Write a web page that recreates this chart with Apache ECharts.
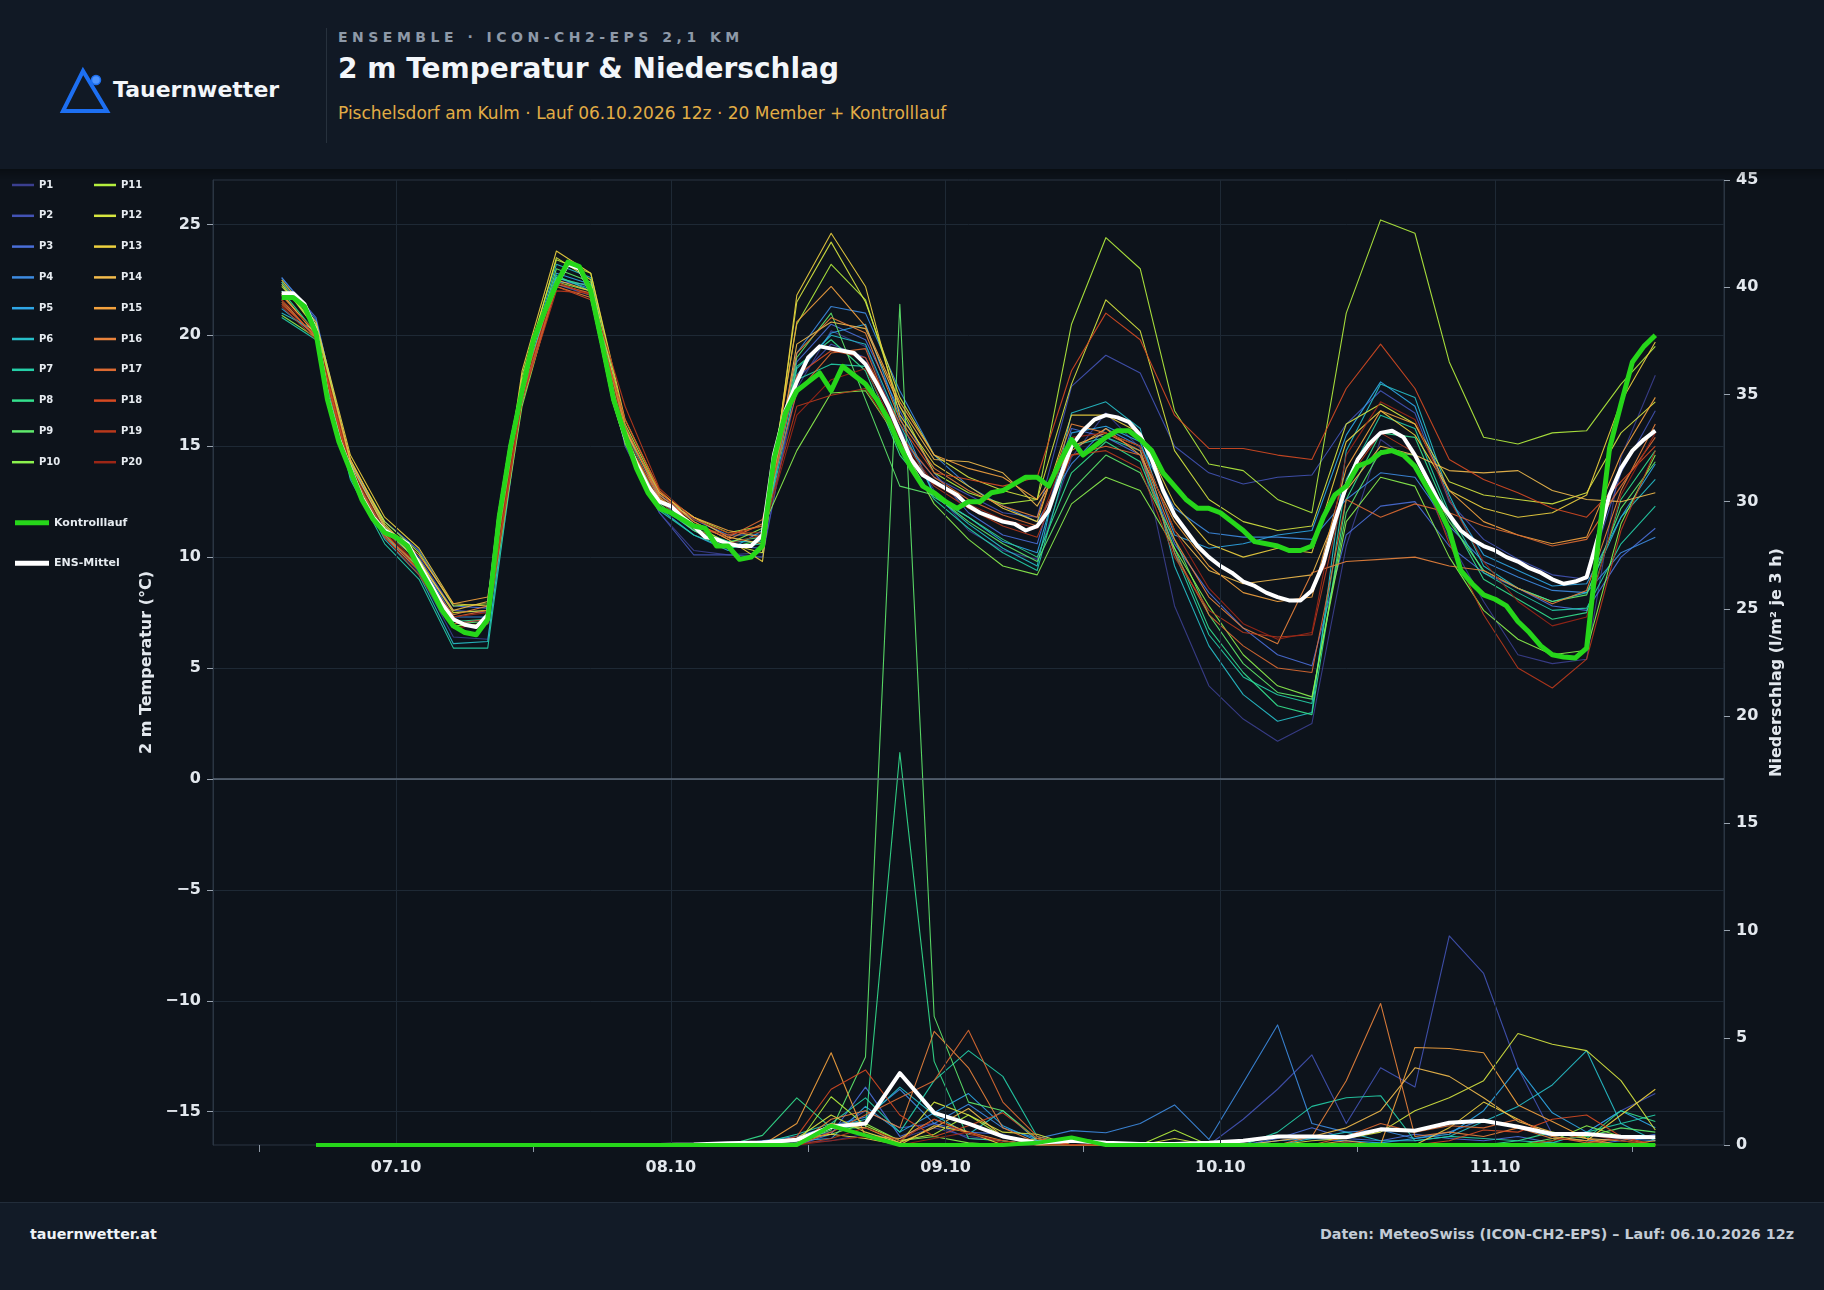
<!DOCTYPE html>
<html>
<head>
<meta charset="utf-8">
<title>Ensemble ICON-CH2-EPS</title>
<script src="https://cdn.jsdelivr.net/npm/echarts@6/dist/echarts.min.js"></script>
<style>
html,body{margin:0;padding:0;background:#0d131b;}
#wrap{position:relative;width:1824px;height:1290px;overflow:hidden;font-family:"DejaVu Sans",sans-serif;}
#chart{position:absolute;left:0;top:0;width:1824px;height:1290px;}
#hdr{position:absolute;left:0;top:0;width:1824px;height:169px;background:#111925;}
#shade{position:absolute;left:0;top:169px;width:1824px;height:10px;background:linear-gradient(rgba(0,0,0,0.28),rgba(0,0,0,0));}
#logo{position:absolute;left:0;top:0;}
.brand{position:absolute;left:113px;top:79px;font:bold 22px/22px "DejaVu Sans";color:#f3f6fa;white-space:nowrap;}
.sep{position:absolute;left:326px;top:28px;width:1px;height:115px;background:#27313d;}
.kick{position:absolute;left:338px;top:30px;font:bold 14px/14px "DejaVu Sans";letter-spacing:4.5px;color:#8e99a8;white-space:nowrap;}
.ttl{position:absolute;left:338px;top:55px;font:bold 28px/28px "DejaVu Sans";color:#f3f6fa;white-space:nowrap;}
.sub{position:absolute;left:338px;top:105px;font:17px/17px "DejaVu Sans";color:#e2ad45;white-space:nowrap;}
#ftr{position:absolute;left:0;top:1202px;width:1824px;height:88px;background:#121b27;border-top:1px solid #222d3a;box-sizing:border-box;}
.fl{position:absolute;left:30px;top:24px;font:bold 14.3px/14.3px "DejaVu Sans";color:#eef2f6;white-space:nowrap;}
.fr{position:absolute;right:30px;top:24px;font:bold 14.3px/14.3px "DejaVu Sans";color:#c3cbd5;white-space:nowrap;}
</style>
</head>
<body>
<div id="wrap">
  <div id="chart"></div>
  <div id="hdr">
    <svg id="logo" width="130" height="130">
      <polygon points="83,71 63,111 107,111" fill="none" stroke="#1d6ff2" stroke-width="4" stroke-linejoin="miter"/>
      <circle cx="96" cy="80" r="4.5" fill="#4d94ff" stroke="#1d6ff2" stroke-width="1.5"/>
    </svg>
    <div class="brand">Tauernwetter</div>
    <div class="sep"></div>
    <div class="kick">ENSEMBLE · ICON-CH2-EPS 2,1 KM</div>
    <div class="ttl">2 m Temperatur &amp; Niederschlag</div>
    <div class="sub">Pischelsdorf am Kulm · Lauf 06.10.2026 12z · 20 Member + Kontrolllauf</div>
  </div>
  <div id="shade"></div>
  <div id="ftr">
    <div class="fl">tauernwetter.at</div>
    <div class="fr">Daten: MeteoSwiss (ICON-CH2-EPS) – Lauf: 06.10.2026 12z</div>
  </div>
</div>
<script>
// Zeitachse: Stunden ab 06.10. 00:00
// Temperatur Kontrolllauf / Mittel: stündlich ab 14:00, Member: 3-stündlich ab 14:00
// Niederschlag: 3-stündlich ab 17:00
var hourlyStart = 14;
var memberStart = 14;
var precipStart = 17;
var dayTicks = [24, 48, 72, 96, 120];
var dayLabels = ['07.10', '08.10', '09.10', '10.10', '11.10'];
var halfDayTicks = [12, 36, 60, 84, 108, 132];
var tempTicks = [-15, -10, -5, 0, 5, 10, 15, 20, 25];

var tCtrl = [21.7,21.7,21.3,20.1,17.1,15.2,13.9,12.6,11.7,11.1,
  10.9,10.5,9.5,8.6,7.6,6.9,6.6,6.5,7.2,11.8,
  15.0,17.5,19.8,21.1,22.3,23.3,23.1,22.0,19.6,17.1,
  15.5,14.0,12.9,12.2,12.0,11.7,11.4,11.3,10.5,10.5,
  9.9,10.0,10.5,14.4,16.5,17.5,17.9,18.3,17.5,18.6,
  18.2,17.8,17.1,16.2,15.0,14.0,13.2,12.9,12.5,12.2,
  12.5,12.5,12.9,13.0,13.3,13.6,13.6,13.2,14.3,15.3,
  14.6,15.0,15.4,15.7,15.7,15.3,14.8,13.8,13.2,12.6,
  12.2,12.2,12.0,11.6,11.2,10.7,10.6,10.5,10.3,10.3,
  10.5,11.8,12.8,13.2,14.1,14.3,14.7,14.8,14.6,14.1,
  13.2,12.3,11.2,9.4,8.8,8.3,8.1,7.8,7.1,6.6,
  6.0,5.6,5.5,5.45,5.9,10.6,14.9,16.9,18.8,19.5,20.0];

var tMean = [21.9,21.9,21.4,20.2,17.2,15.3,14.0,12.7,11.8,11.2,
  10.9,10.6,9.7,8.8,7.9,7.2,6.95,6.85,7.4,11.8,
  15.0,17.5,19.8,21.1,22.3,23.2,23.0,22.0,19.6,17.1,
  15.4,14.2,13.2,12.5,12.3,11.8,11.4,10.9,10.8,10.6,
  10.5,10.5,11.0,14.6,16.6,17.9,19.0,19.5,19.4,19.3,
  19.2,18.7,17.8,16.8,15.6,14.4,13.7,13.4,13.1,12.8,
  12.3,12.0,11.8,11.6,11.5,11.2,11.4,12.1,13.6,15.0,
  15.7,16.2,16.4,16.3,16.1,15.5,14.4,13.0,11.9,11.2,
  10.5,10.0,9.6,9.3,8.9,8.7,8.4,8.2,8.05,8.05,
  8.5,9.7,11.6,13.2,14.4,15.1,15.6,15.7,15.4,14.6,
  13.6,12.6,11.9,11.2,10.8,10.5,10.3,10.0,9.8,9.5,
  9.3,9.0,8.8,8.9,9.1,10.9,12.8,14.0,14.8,15.3,15.7];

var tP1 = [22.3,20.4,14.0,11.0,9.3,6.4,6.3,17.0,22.6,22.2,15.2,12.0,10.3,10.1,10.2,17.6,20.2,19.5,15.8,13.0,11.2,10.3,9.9,14.5,16.5,14.9,7.8,4.2,2.7,1.7,2.5,10.5,15.3,14.2,10.8,8.0,5.6,5.2,5.4,14.5,18.2];
var tP2 = [22.4,20.6,14.2,11.4,10.0,7.6,7.5,17.2,22.3,21.8,15.0,12.0,10.1,10.1,10.0,18.0,19.6,19.0,15.4,13.6,12.8,12.0,11.8,17.7,19.1,18.3,15.0,13.8,13.3,13.6,13.7,16.0,17.5,16.5,12.5,10.8,9.9,9.2,9.0,13.8,16.6];
var tP3 = [22.6,20.8,14.1,11.6,10.3,7.8,7.7,17.0,22.4,22.3,15.6,12.6,11.2,10.5,10.4,18.8,20.5,19.8,16.6,13.8,12.0,11.0,10.6,15.8,15.4,14.6,10.6,8.4,6.8,5.6,5.1,11.0,12.3,12.5,10.5,9.3,8.6,7.8,7.6,10.0,11.3];
var tP4 = [22.6,20.7,14.3,11.3,9.9,7.3,7.3,17.6,22.6,22.1,15.8,12.8,11.7,11.0,11.0,19.2,21.3,21.0,17.5,14.6,13.2,12.3,11.6,14.2,15.8,15.0,12.2,11.1,10.9,10.9,10.8,12.6,13.8,13.6,11.4,9.8,9.1,8.5,8.4,10.2,10.9];
var tP5 = [21.2,20.0,13.6,10.9,9.6,7.0,7.2,17.8,22.8,22.3,15.5,12.2,11.0,10.3,11.2,18.2,20.1,20.5,16.3,12.8,11.8,10.7,10.2,15.6,15.9,15.2,11.0,10.4,10.6,11.0,11.2,15.5,17.9,16.8,12.6,10.1,9.4,8.7,8.8,11.8,14.2];
var tP6 = [21.0,20.2,13.8,10.8,9.2,6.1,6.2,17.9,23.2,22.6,15.8,12.3,11.2,10.7,10.7,18.5,20.0,19.6,16.0,12.8,11.5,10.4,9.6,16.5,17.0,15.8,9.6,6.0,3.8,2.6,3.0,14.8,17.8,17.2,12.8,9.6,8.6,8.0,8.4,11.8,13.5];
var tP7 = [20.8,19.8,13.5,10.6,9.0,5.9,5.9,17.4,22.7,22.0,15.2,12.1,11.0,10.4,10.6,18.0,18.7,18.6,15.0,12.6,11.3,10.2,9.4,15.0,15.4,14.8,10.2,6.5,4.6,3.8,3.4,13.5,16.4,15.8,12.0,9.3,8.4,7.6,7.7,10.6,12.3];
var tP8 = [22.0,20.1,13.9,11.2,9.8,7.1,7.2,17.5,22.6,22.2,15.6,12.5,11.3,10.7,10.9,18.6,19.8,18.4,14.6,12.7,11.8,10.8,10.0,13.8,15.2,14.3,10.4,6.8,4.8,3.3,2.9,12.6,15.6,15.4,11.8,9.0,8.1,7.2,7.5,12.6,14.8];
var tP9 = [22.4,20.3,14.1,11.4,9.7,7.0,7.1,17.7,23.0,22.4,15.4,12.4,11.2,10.4,10.8,19.0,21.0,17.1,13.2,12.8,11.6,10.6,9.8,13.0,14.6,13.8,10.8,7.4,5.2,3.9,3.6,12.0,14.8,14.6,11.6,9.4,8.6,8.0,8.3,12.2,14.3];
var tP10 = [20.9,19.9,13.7,11.0,9.5,6.9,7.0,16.8,22.4,22.0,15.1,12.3,11.3,10.6,11.3,14.8,17.4,17.5,15.2,12.4,10.8,9.6,9.2,12.4,13.6,13.0,10.4,7.8,5.6,4.2,3.7,11.6,13.6,13.2,10.0,7.6,6.3,5.6,5.8,11.5,14.6];
var tP11 = [22.2,20.5,14.3,11.6,10.2,7.8,7.9,18.2,23.4,22.8,16.0,12.9,11.8,11.1,11.4,20.5,23.2,21.6,16.8,13.8,12.9,12.4,12.6,20.5,24.4,23.0,16.6,14.2,13.9,12.6,12.0,21.0,25.2,24.6,18.8,15.4,15.1,15.6,15.7,17.8,19.5];
var tP12 = [22.3,20.3,14.4,11.5,9.9,7.5,7.6,18.0,23.5,22.5,15.8,12.7,11.5,10.6,10.2,21.5,24.2,21.5,17.2,14.6,13.6,13.0,12.6,17.8,21.6,20.2,14.8,12.6,11.6,11.2,11.4,16.0,16.9,16.0,13.4,12.8,12.6,12.4,12.9,15.6,17.0];
var tP13 = [22.5,20.6,14.6,11.8,10.4,7.9,7.8,18.4,23.8,22.8,16.2,13.0,11.6,10.8,9.8,21.8,24.6,22.2,16.4,14.2,13.2,12.2,11.6,16.4,16.4,15.6,12.4,10.6,10.0,10.4,10.2,15.2,16.6,15.5,13.0,12.2,11.8,12.0,12.8,17.0,19.7];
var tP14 = [21.9,20.0,14.2,11.3,9.8,7.6,8.0,17.3,22.5,22.0,15.3,12.6,11.8,10.9,10.6,19.6,20.6,20.3,16.8,14.4,14.3,13.8,12.3,15.0,15.6,15.0,11.2,9.4,8.8,9.0,9.2,13.0,15.0,14.6,13.9,13.8,13.9,13.0,12.6,12.5,12.9];
var tP15 = [21.8,20.1,14.4,11.4,10.1,7.9,8.2,17.4,22.4,21.8,15.7,12.9,11.8,11.2,10.9,20.6,22.2,20.4,17.0,14.6,14.0,13.6,12.6,14.8,15.8,14.6,11.6,9.6,8.4,8.0,8.2,14.0,16.6,16.0,13.0,11.6,11.0,10.6,10.9,14.6,17.2];
var tP16 = [21.6,19.9,13.8,10.9,9.4,7.4,7.8,17.0,22.2,21.7,15.2,12.8,11.6,10.8,11.5,19.2,20.8,20.1,16.2,14.0,13.0,12.3,11.8,16.0,15.6,14.8,10.8,8.2,6.8,6.1,9.3,9.8,9.9,10.0,9.6,9.4,8.6,7.9,8.5,13.0,16.0];
var tP17 = [21.5,19.9,13.9,11.0,9.6,7.3,7.6,17.6,22.3,21.9,15.9,12.7,11.4,10.9,11.7,17.4,19.2,19.4,15.5,13.6,12.6,11.9,11.4,14.6,15.0,14.6,10.2,7.4,6.0,5.0,4.8,12.6,11.8,12.4,12.0,11.4,11.0,10.5,10.8,13.2,15.4];
var tP18 = [21.4,20.0,14.0,11.1,9.4,7.0,7.2,17.2,22.2,21.6,16.2,13.0,11.4,11.0,11.4,18.2,19.3,19.0,16.0,13.8,13.5,13.2,13.6,18.4,21.0,19.8,16.4,14.9,14.9,14.6,14.4,17.6,19.6,17.6,14.4,13.5,12.9,12.2,11.8,13.4,15.0];
var tP19 = [21.3,19.8,13.8,10.9,9.2,6.8,7.0,17.1,22.0,21.9,16.8,13.1,11.7,11.1,11.1,16.8,17.3,17.6,15.2,13.2,12.2,11.4,10.9,14.6,14.8,14.0,10.0,7.6,6.6,6.4,6.5,13.4,15.6,14.7,10.6,7.4,5.0,4.1,5.4,11.2,14.8];
var tP20 = [21.6,20.2,14.1,11.2,9.6,7.3,7.5,17.4,22.4,21.8,15.6,12.5,11.3,10.6,11.0,16.4,18.0,18.5,15.4,13.3,12.4,11.7,11.3,15.4,15.6,15.0,11.2,8.6,7.0,6.3,6.6,14.6,17.0,16.2,12.6,9.8,8.0,6.9,7.3,12.8,15.6];

var rCtrl = [0,0,0,0,0,0,0,0,0,0,0,0,0,0,0,0.9,0.45,0,0,0,0,0.1,0.35,0,0,0,0,0,0,0,0,0,0,0,0,0,0,0,0,0];
var rMean = [0,0,0,0,0,0,0,0,0,0,0,0.02,0.08,0.12,0.25,0.85,1.0,3.35,1.5,1.0,0.4,0.1,0.2,0.1,0.05,0.05,0.1,0.2,0.4,0.4,0.36,0.73,0.67,1.04,1.13,0.85,0.51,0.51,0.39,0.36];
var rP1 = [0,0,0,0,0,0,0,0,0,0,0,0,0,0,0.1,0.2,0.5,0.3,0.8,0.4,0.2,0,0,0,0,0,0,0,0.2,0.4,0.1,0,0,0,0,0,0,0,0,0];
var rP2 = [0,0,0,0,0,0,0,0,0,0,0,0,0,0,0.3,0.6,1.6,0.8,1.0,0.3,0.2,0,0,0,0,0,0,1.2,2.6,4.2,1.0,3.6,2.7,9.75,8.0,3.6,0.5,0.6,1.6,2.4];
var rP3 = [0,0,0,0,0,0,0,0,0,0,0,0,0,0,0,0.5,2.7,0.4,1.0,0.6,0.5,0,0.2,0,0,0,0,0,0.3,0.8,0.3,0.2,0.5,0.3,0.2,0.4,0.1,0,0.2,0.5];
var rP4 = [0,0,0,0,0,0,0,0,0,0,0,0,0,0.2,0.4,0.9,1.3,2.6,1.0,1.9,0.8,0.3,0.67,0.57,1.0,1.87,0.26,2.9,5.6,1.0,0.6,0.7,0.3,0.6,1.2,0.8,0.4,0.2,0.3,0.2];
var rP5 = [0,0,0,0,0,0,0,0,0,0,0,0,0,0,0.2,0.3,1.8,0.6,1.5,2.4,0.9,0.2,0,0,0,0,0,0,0.2,0.3,0.2,0.1,0.3,0.5,1.6,3.6,1.5,0.6,1.6,0.8];
var rP6 = [0,0,0,0,0,0,0,0,0,0,0,0,0,0,0,0.8,1.2,2.7,1.4,0.5,1.6,0.2,0,0,0,0,0,0,0,0.3,0.6,0.2,0.2,0.4,1.1,1.8,2.8,4.4,1.0,0.2];
var rP7 = [0,0,0,0,0,0,0,0,0,0,0,0,0,0.1,0.5,1.0,2.2,0.6,3.0,4.4,3.2,0.4,0,0,0,0,0,0,0.6,1.8,2.2,2.3,0.2,0.4,0.3,0.2,0.1,0.6,1.0,1.4];
var rP8 = [0,0,0,0,0,0,0,0,0,0,0,0,0,0.45,2.2,0.8,0.8,18.3,3.9,0.3,0.2,0,0,0,0,0,0,0,0,0,0,0,0,0,0,0.2,0.6,0.3,1.6,1.1];
var rP9 = [0,0,0,0,0,0,0,0,0,0,0,0,0,0,0.1,0.7,4.1,39.2,6.0,2.0,1.6,0.3,0,0,0,0,0,0,0,0,0,0,0,0,0,0,0.3,0.4,0.8,0.6];
var rP10 = [0,0,0,0,0,0,0,0,0,0,0,0,0,0,0.2,0.5,1.0,0.2,0.4,0.1,0,0,0,0,0,0,0,0,0,0,0,0,0,0,0,0,0.2,0.9,0.4,0.3];
var rP11 = [0,0,0,0,0,0,0,0,0,0,0,0,0,0,0,2.25,0.9,0.2,0.5,1.4,0.4,0,0,0,0,0.7,0,0,0,0,0,0,0,0,0,0,0,0,0,0];
var rP12 = [0,0,0,0,0,0,0,0,0,0,0,0,0,0,0.3,1.4,0.6,0.1,2.0,1.4,0.6,0.5,0,0,0,0.3,0,0,0,0.2,0.3,0.6,1.6,2.2,3.0,5.2,4.7,4.4,3.0,0.7];
var rP13 = [0,0,0,0,0,0,0,0,0,0,0,0,0,0,0.3,0.5,0.3,0,0.9,0.6,0,0.3,0,0,0,0,0,0,0,0,0,0,0,0.8,2.0,1.2,0.4,0.2,1.4,2.6];
var rP14 = [0,0,0,0,0,0,0,0,0,0,0,0,0,0,0,1.0,0.8,0.1,0.8,1.7,0.4,0,0,0,0,0,0,0,0.2,0.4,0.8,1.6,3.6,3.2,2.2,1.1,0.6,0.3,0.2,0];
var rP15 = [0,0,0,0,0,0,0,0,0,0,0,0,0,0,1.0,4.3,0.4,0.3,1.2,0.6,0.2,0,0,0,0,0,0,0,0,0,0.2,0,4.55,4.5,4.3,1.87,1.1,0.3,0,0.2];
var rP16 = [0,0,0,0,0,0,0,0,0,0,0,0,0,0,0,1.2,1.6,0.8,5.3,3.6,0.8,0.1,0,0,0,0,0,0,0,0.4,3.0,6.6,0.4,0.6,0.4,0.8,0.3,0.2,0,0];
var rP17 = [0,0,0,0,0,0,0,0,0,0,0,0,0,0,0,0.6,1.4,2.2,3.0,5.35,2.0,0.4,0,0,0,0,0,0,0,0,0.4,1.0,0.6,0.9,0.8,1.2,0.4,0.1,0.3,0];
var rP18 = [0,0,0,0,0,0,0,0,0,0,0,0,0,0,0.4,2.6,3.5,1.4,0.4,0.9,1.5,0.3,0,0,0,0,0,0,0,0,0,0,0,0.2,0.7,0.6,1.2,1.4,0.4,0];
var rP19 = [0,0,0,0,0,0,0,0,0,0,0,0,0,0,0,0.3,0.8,0.2,1.2,0.5,0.2,0,0,0,0,0,0,0,0,0,0.1,0,0,0,0,0,0,0,0,0];
var rP20 = [0,0,0,0,0,0,0,0,0,0,0,0,0,0,0,0.2,0.4,0,0.3,0.6,0.1,0,0,0,0,0,0,0,0,0,0,0,0,0,0,0,0.2,0.5,0.2,0];

var memberNames = ['P1','P2','P3','P4','P5','P6','P7','P8','P9','P10','P11','P12','P13','P14','P15','P16','P17','P18','P19','P20'];
var memberColors = ['#3b3f8f','#4353b5','#4a6fd8','#3d8be0','#2fa6e6','#27bfc9','#25cfa8','#34e08d','#5fea6c','#8cf24e',
  '#b5ef3e','#d6e640','#eed23f','#f2bb4c','#f4a23e','#e9833c','#dc6a32','#d54a22','#b8391c','#9c2616'];
var memberTemp = [tP1,tP2,tP3,tP4,tP5,tP6,tP7,tP8,tP9,tP10,tP11,tP12,tP13,tP14,tP15,tP16,tP17,tP18,tP19,tP20];
var memberPrecip = [rP1,rP2,rP3,rP4,rP5,rP6,rP7,rP8,rP9,rP10,rP11,rP12,rP13,rP14,rP15,rP16,rP17,rP18,rP19,rP20];

var FONT = '"DejaVu Sans", sans-serif';
var CTRL = '#26d61a';
var MEAN = '#ffffff';

function toPairs(values, start, step) {
  return values.map(function (v, k) { return [start + step * k, v]; });
}

var chart = echarts.init(document.getElementById('chart'));

var series = [];
// Hilfsserie nur für Gitter (Tageslinien) und Nulllinie
series.push({
  name: 'grid', type: 'line', data: [[8, 0]], symbol: 'none', silent: true, z: 1,
  lineStyle: { opacity: 0 },
  markLine: {
    silent: true, symbol: ['none', 'none'], label: { show: false }, animation: false,
    data: dayTicks.map(function (d) {
      return { xAxis: d, lineStyle: { color: '#1e2935', width: 1, type: 'solid' } };
    }).concat([{ yAxis: 0, lineStyle: { color: '#5c6a7a', width: 1.5, type: 'solid' } }])
  }
});

memberNames.forEach(function (name, i) {
  var c = memberColors[i];
  series.push({
    name: name, type: 'line', xAxisIndex: 0, yAxisIndex: 0,
    data: toPairs(memberTemp[i], memberStart, 3),
    symbol: 'none', silent: true, z: 2,
    itemStyle: { color: c },
    lineStyle: { color: c, width: 1.1, opacity: 0.9, join: 'round' }
  });
  series.push({
    name: name, type: 'line', xAxisIndex: 0, yAxisIndex: 1,
    data: toPairs(memberPrecip[i], precipStart, 3),
    symbol: 'none', silent: true, z: 2,
    itemStyle: { color: c },
    lineStyle: { color: c, width: 1.1, opacity: 0.9, join: 'round' }
  });
});

series.push({
  name: 'ENS-Mittel', type: 'line', yAxisIndex: 0, data: toPairs(tMean, hourlyStart, 1),
  symbol: 'none', silent: true, z: 4, itemStyle: { color: MEAN },
  lineStyle: { color: MEAN, width: 4, join: 'round' }
});
series.push({
  name: 'ENS-Mittel', type: 'line', yAxisIndex: 1, data: toPairs(rMean, precipStart, 3),
  symbol: 'none', silent: true, z: 4, itemStyle: { color: MEAN },
  lineStyle: { color: MEAN, width: 4, join: 'round' }
});
series.push({
  name: 'Kontrolllauf', type: 'line', yAxisIndex: 0, data: toPairs(tCtrl, hourlyStart, 1),
  symbol: 'none', silent: true, z: 5, itemStyle: { color: CTRL },
  lineStyle: { color: CTRL, width: 5, join: 'round' }
});
series.push({
  name: 'Kontrolllauf', type: 'line', yAxisIndex: 1, data: toPairs(rCtrl, precipStart, 3),
  symbol: 'none', silent: true, z: 5, itemStyle: { color: CTRL },
  lineStyle: { color: CTRL, width: 4, join: 'round' }
});

var legendText = { color: '#e6ebf0', fontSize: 10, fontWeight: 'bold', fontFamily: FONT, lineHeight: 14 };
var labelStyle = { color: '#e3e8ee', fontSize: 16, fontWeight: 'bold', fontFamily: FONT };

var option = {
  backgroundColor: '#0d131b',
  animation: false,
  textStyle: { fontFamily: FONT },
  grid: {
    left: 213, top: 180, width: 1511, height: 965,
    show: true, backgroundColor: '#0d131b', borderColor: '#2a3542', borderWidth: 1
  },
  legend: [
    {
      data: memberNames.slice(0, 10), left: 12, top: 178, orient: 'vertical', padding: 0,
      itemGap: 16.8, icon: 'rect', itemWidth: 22, itemHeight: 2.5, selectedMode: false, textStyle: legendText
    },
    {
      data: memberNames.slice(10), left: 94, top: 178, orient: 'vertical', padding: 0,
      itemGap: 16.8, icon: 'rect', itemWidth: 22, itemHeight: 2.5, selectedMode: false, textStyle: legendText
    },
    {
      data: ['Kontrolllauf', 'ENS-Mittel'], left: 15, top: 515.7, orient: 'vertical', padding: 0,
      itemGap: 26.6, icon: 'rect', itemWidth: 34, itemHeight: 5, selectedMode: false,
      textStyle: { color: '#e6ebf0', fontSize: 11, fontWeight: 'bold', fontFamily: FONT, lineHeight: 14 }
    }
  ],
  xAxis: [
    {
      type: 'value', min: 8, max: 140, position: 'bottom',
      axisLine: { show: true, lineStyle: { color: '#2a3542' } },
      axisTick: { show: true, length: 11, customValues: dayTicks, lineStyle: { color: '#b4bdc7' } },
      axisLabel: {
        show: true, customValues: dayTicks, margin: 15,
        color: labelStyle.color, fontSize: 16, fontWeight: 'bold', fontFamily: FONT,
        formatter: function (v) { return dayLabels[Math.round(v / 24) - 1] || ''; }
      },
      splitLine: { show: false }
    },
    {
      type: 'value', min: 8, max: 140, position: 'bottom',
      axisLine: { show: false },
      axisTick: { show: true, length: 7, customValues: halfDayTicks, lineStyle: { color: '#8d98a5' } },
      axisLabel: { show: false },
      splitLine: { show: false }
    }
  ],
  yAxis: [
    {
      type: 'value', position: 'left', min: -16.5, max: 27, splitNumber: 9, minInterval: 5, maxInterval: 5,
      name: '2 m Temperatur (°C)', nameLocation: 'middle', nameGap: 55, nameRotate: 90,
      nameTextStyle: labelStyle,
      axisLine: { show: true, lineStyle: { color: '#2a3542' } },
      axisTick: { show: true, length: 6, customValues: tempTicks, lineStyle: { color: '#9aa4b0' } },
      axisLabel: {
        customValues: tempTicks, margin: 12,
        color: labelStyle.color, fontSize: 16, fontWeight: 'bold', fontFamily: FONT,
        formatter: function (v) { return v < 0 ? '\u2212' + (-v) : String(v); }
      },
      splitLine: { show: true, lineStyle: { color: '#1e2935', width: 1 } }
    },
    {
      type: 'value', position: 'right', min: 0, max: 45, interval: 5,
      name: 'Niederschlag (l/m² je 3 h)', nameLocation: 'middle', nameGap: 39.5, nameRotate: 90,
      nameTextStyle: labelStyle,
      axisLine: { show: true, lineStyle: { color: '#2a3542' } },
      axisTick: { show: true, length: 6, lineStyle: { color: '#9aa4b0' } },
      axisLabel: { margin: 12, color: labelStyle.color, fontSize: 16, fontWeight: 'bold', fontFamily: FONT },
      splitLine: { show: false }
    }
  ],
  series: series
};

chart.setOption(option);
</script>
</body>
</html>
